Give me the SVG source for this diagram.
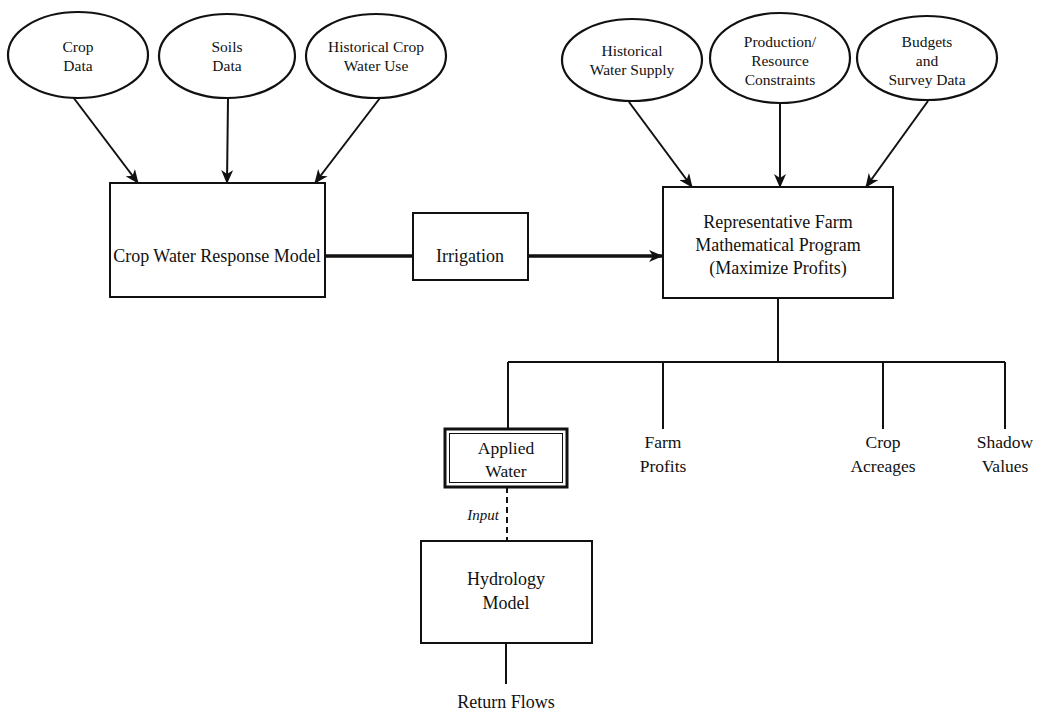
<svg xmlns="http://www.w3.org/2000/svg" width="1038" height="712" viewBox="0 0 1038 712">
<style>
text{font-family:"Liberation Serif","Times New Roman",serif;fill:#111;text-anchor:middle}
text.lbl{text-anchor:end;font-style:italic;font-size:15px}
.e{fill:#fff;stroke:#111;stroke-width:2.2}
.b{fill:#fff;stroke:#111;stroke-width:2}
.c{stroke:#111;stroke-width:2;fill:none}
.te{font-size:15.5px}
.tb{font-size:18px}
.to{font-size:17.5px}
</style>
<defs>
<marker id="ah" markerWidth="14" markerHeight="12" refX="13" refY="6" orient="auto" markerUnits="userSpaceOnUse">
<path d="M0,0 L14,6 L0,12 L4,6 Z" fill="#111"/>
</marker>
</defs>
<rect width="1038" height="712" fill="#fff"/>
<g id="connectors">
<line class="c" x1="73" y1="97" x2="138" y2="183" marker-end="url(#ah)"/>
<line class="c" x1="228" y1="99" x2="227" y2="183" marker-end="url(#ah)"/>
<line class="c" x1="380" y1="98" x2="315" y2="183" marker-end="url(#ah)"/>
<line class="c" x1="629" y1="102" x2="692" y2="187" marker-end="url(#ah)"/>
<line class="c" x1="780" y1="103" x2="780" y2="187" marker-end="url(#ah)"/>
<line class="c" x1="928" y1="101" x2="866" y2="187" marker-end="url(#ah)"/>
<line x1="325" y1="256" x2="413" y2="256" stroke="#111" stroke-width="3.5"/>
<line x1="528" y1="256" x2="662" y2="256" stroke="#111" stroke-width="3.5" marker-end="url(#ah)"/>
<line class="c" x1="778" y1="298" x2="778" y2="362"/>
<line class="c" x1="508" y1="362" x2="1005" y2="362"/>
<line class="c" x1="508" y1="362" x2="508" y2="429"/>
<line class="c" x1="663" y1="362" x2="663" y2="429"/>
<line class="c" x1="883" y1="362" x2="883" y2="429"/>
<line class="c" x1="1005" y1="362" x2="1005" y2="429"/>
<line class="c" x1="507" y1="487" x2="507" y2="541" stroke-dasharray="6,4"/>
<text class="lbl" x="499" y="520">Input</text>
<line class="c" x1="506" y1="643" x2="506" y2="684"/>
</g>
<g id="crop-data"><ellipse class="e" cx="78" cy="55" rx="70" ry="43"/><text class="te" x="78" y="52">Crop</text><text class="te" x="78" y="71">Data</text></g>
<g id="soils-data"><ellipse class="e" cx="227" cy="56" rx="68" ry="42"/><text class="te" x="227" y="52">Soils</text><text class="te" x="227" y="71">Data</text></g>
<g id="hist-crop-water"><ellipse class="e" cx="376" cy="56" rx="70" ry="42"/><text class="te" x="376" y="52">Historical Crop</text><text class="te" x="376" y="71">Water Use</text></g>
<g id="hist-water-supply"><ellipse class="e" cx="632" cy="60" rx="70" ry="41"/><text class="te" x="632" y="56">Historical</text><text class="te" x="632" y="75">Water Supply</text></g>
<g id="production"><ellipse class="e" cx="780" cy="58" rx="70" ry="45"/><text class="te" x="780" y="47">Production/</text><text class="te" x="780" y="66">Resource</text><text class="te" x="780" y="85">Constraints</text></g>
<g id="budgets"><ellipse class="e" cx="927" cy="58" rx="70" ry="42"/><text class="te" x="927" y="47">Budgets</text><text class="te" x="927" y="66">and</text><text class="te" x="927" y="85">Survey Data</text></g>
<g id="crop-water-model"><rect class="b" x="110" y="183" width="215" height="114"/><text class="tb" x="217" y="262">Crop Water Response Model</text></g>
<g id="irrigation"><rect class="b" x="413" y="213" width="115" height="67"/><text class="tb" x="470" y="262">Irrigation</text></g>
<g id="farm-program"><rect class="b" x="663" y="187" width="230" height="111"/><text class="tb" x="778" y="228">Representative Farm</text><text class="tb" x="778" y="251">Mathematical Program</text><text class="tb" x="778" y="274">(Maximize Profits)</text></g>
<g id="applied-water"><rect x="445" y="429" width="122" height="58" fill="#fff" stroke="#111" stroke-width="3"/><rect x="449.5" y="433.5" width="113" height="49" fill="none" stroke="#111" stroke-width="1"/><text class="to" x="506" y="454">Applied</text><text class="to" x="506" y="477">Water</text></g>
<g id="farm-profits"><text class="to" x="663" y="448">Farm</text><text class="to" x="663" y="472">Profits</text></g>
<g id="crop-acreages"><text class="to" x="883" y="448">Crop</text><text class="to" x="883" y="472">Acreages</text></g>
<g id="shadow-values"><text class="to" x="1005" y="448">Shadow</text><text class="to" x="1005" y="472">Values</text></g>
<g id="hydrology"><rect class="b" x="421" y="541" width="171" height="102"/><text class="tb" x="506" y="585">Hydrology</text><text class="tb" x="506" y="609">Model</text></g>
<g id="return-flows"><text class="tb" x="506" y="708">Return Flows</text></g>
</svg>
